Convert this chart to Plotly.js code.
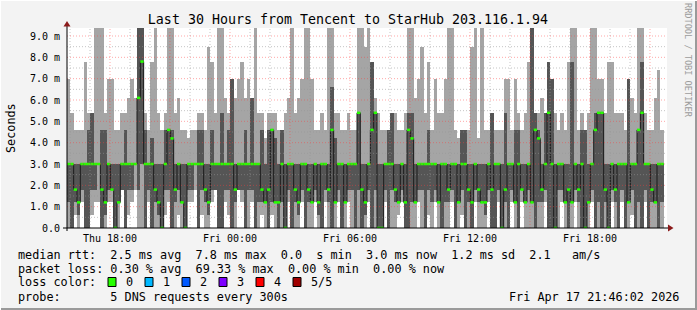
<!DOCTYPE html>
<html><head><meta charset="utf-8">
<script src="https://cdn.plot.ly/plotly-3.0.1.min.js"></script>
<style>html,body{margin:0;padding:0;background:#f3f3f3}#chart{width:697px;height:310px}</style>
</head><body><div id="chart"></div>
<script>
// ---- data: 5 sorted DNS response times (ms) per 10-minute step ----
const p1=[0,0,0.6,0,1.2,0,0,0.6,1.2,1.2, 0,0,1.2,1.2,0,0,1.8,0,0.6,1.2, 1.8,0,0,0,1.2,0,0,0,0,0.6, 1.2,0,0,0.6,0,0,1.2,1.2,1.8,0, 0.6,0,0,1.2,1.8,0,0,1.2,0.6,0, 0,1.8,1.2,0,0,1.2,0,0,0.6,0,
 0,0.6,0,0,0,0,1.2,0,0,0, 1.2,0,0,0,1.2,0,0,1.2,0,0, 0,1.2,0,0,1.2,0,0,0,0,0, 1.2,0,0,0,0,1.2,0,0,0,0.6, 1.2,0,0,0,0,1.2,0,0,0.6,0, 1.2,0,0,0,0,1.2,0,0,0.6,0,
 0,0,1.2,0,0,0,1.2,0,0,1.2, 0,0,0,1.2,0,0,1.2,0,0,0, 0,0,0,1.2,0,0,0,0,1.2,0, 0,0,1.2,0,0,0,0,1.2,0,0, 0,0,0,1.2,0,0,1.2,0,0,0.6, 0,0,0,1.2,0,0,0,0,0];
const p2=[1.2,0,1.2,0.6,1.8,0,0,1.8,1.8,3.0, 0,0.6,1.8,1.8,0,1.2,1.8,0,1.8,1.8, 3.0,1.8,3.0,0,1.8,0,1.2,0.6,0,1.8, 1.8,0,1.2,1.8,1.2,0,1.8,1.8,3.0,0, 1.8,1.2,0.6,1.8,1.8,0,0,1.8,1.8,0, 1.2,1.8,1.8,0,1.8,1.8,0,1.2,1.2,1.2,
 0,1.2,1.2,0,1.2,0,1.8,0,1.2,0.6, 1.8,0,1.2,1.2,1.8,0.6,0,1.8,1.2,0, 1.2,1.8,0,1.2,1.8,1.8,0,1.8,0,0.6, 1.8,0,1.8,0,0,1.8,0,1.8,1.2,1.2, 1.8,0,0,1.2,1.2,1.8,1.8,0,1.8,1.2, 1.8,1.2,0,1.2,1.2,1.8,0,1.2,1.8,0,
 1.2,0,1.8,1.2,1.2,0.6,1.8,0,0,1.8, 0,1.2,0,1.8,1.2,0,1.8,1.2,1.8,1.2, 0,1.2,1.2,1.8,0,0,0,1.8,1.8,1.2, 0,1.2,1.8,1.2,0,0,1.2,1.8,0,1.2, 0,1.2,0,1.8,1.2,0,1.8,0,1.2,1.8, 0,1.2,0,1.8,0,1.2,1.2,0,1.2];
const p3=[3,3,1.8,1.2,3,3,3,3,3,3, 1.8,1.2,3,1.8,0,1.2,3,3,3,3, 3,6.1,7.8,3,3,3,1.8,1.2,0,3, 4.6,4.2,1.8,3,1.2,0,3,3,3,3, 3,1.8,1.2,3,3,3,3,3,3,3, 1.8,3,3,3,3,3,3,3,1.8,1.2,
 1.8,4.6,1.2,1.2,3,0,3,3,1.8,1.2, 3,3,1.8,1.2,3,1.2,3,3,1.8,4.6, 1.2,3,3,1.2,3,3,3,5.4,1.8,1.2, 3,4.6,5.4,0,0,3,3,3,1.8,1.2, 3,1.2,4.6,4.2,1.2,3,3,3,3,3, 3,1.2,3,3,1.8,3,3,1.2,3,3,
 1.8,1.2,3,1.8,1.2,1.2,3,1.8,3,3, 0,1.8,3,3,1.2,3,1.8,1.2,3,1.2, 4.6,4.2,1.8,3,5.4,3,0,3,3,1.2, 1.8,1.2,3,1.8,3,0,1.2,3,4.6,5.4, 5.4,1.8,0,3,1.8,3,3,3,1.2,3, 3,4.6,5.4,3,3,1.8,1.2,3,3];
const p4=[3,3,3,3,3,3,4.6,5.4,3,3, 4.6,4.6,3,3,3,3,3,4.6,3,3, 3,9.6,9.6,4.6,3,4.2,3,3,3,4.6, 4.6,4.6,3,3,3,3,3,3,3,4.6, 4.6,3,3,4.6,3,3,5.4,3,4.6,7.0, 3,3,3,4.6,3,6.1,3,3,4.6,3,
 4.6,4.6,4.2,3,4.6,3,3,3,3,3, 3,3,3,3,3,3,3,3,3,6.6, 4.2,3,3,3,3,3,3,5.4,3,3, 3,7.8,5.4,3,3,3,4.6,5.4,3,3, 3,3,5.4,5.4,3,3,3,3,4.6,3, 3,3,3,3,3,3,3,3,4.6,4.6,
 3,3,3,3,3,3,3,5.4,3,3, 3,5.4,3,3,4.6,4.6,3,3,3,9.6, 5.4,4.6,3,5.4,7.8,7.0,3,3,3,3, 3,7.8,3,3,4.6,4.6,3,3,5.4,5.4, 5.4,3,3,3,3,3,3,3,7.0,3, 3,4.6,7.8,3,3,3,3,3,3];
const p5=[7.0,5.4,4.6,4.6,4.6,7.8,5.4,5.4,9.6,9.6, 9.6,5.4,7.0,7.0,4.6,4.6,5.4,5.4,6.1,7.0, 6.1,9.6,9.6,5.4,4.6,7.8,9.6,5.4,4.6,5.4, 9.6,9.6,5.4,6.1,4.6,4.6,4.2,4.6,4.6,5.4, 5.4,4.6,8.5,7.8,5.4,9.6,9.6,6.1,5.4,7.0, 6.1,7.0,7.8,6.1,7.0,6.1,9.6,5.4,5.4,4.2,
 5.4,5.4,5.4,4.6,4.6,5.4,6.1,9.6,5.4,6.1, 7.0,9.6,9.6,7.0,4.6,4.6,5.4,4.6,9.6,9.6, 5.4,5.4,4.6,4.6,5.4,4.6,4.6,9.6,9.6,8.5, 9.6,7.8,6.1,5.4,4.6,4.6,4.6,5.4,5.4,4.6, 4.6,5.4,9.6,9.6,6.1,7.0,8.5,5.4,7.8,4.6, 7.0,5.4,5.4,7.0,9.6,9.6,4.6,4.2,4.6,4.6,
 4.6,8.5,9.6,4.2,9.6,4.6,4.6,5.4,4.6,4.6, 4.6,7.0,7.0,4.6,7.0,5.4,4.6,5.4,7.8,9.6, 5.4,5.4,6.1,5.4,7.8,7.0,5.4,4.6,5.4,4.6, 7.8,9.6,9.6,4.6,5.4,4.6,5.4,9.6,9.6,7.0, 7.0,5.4,7.8,7.8,5.4,5.4,5.4,4.6,7.0,6.1, 5.4,9.6,9.6,5.4,4.6,4.6,6.1,7.4,4.6];

const yTickVals=[0,1,2,3,4,5,6,7,8,9];
const yTickText=['0.0','1.0 m','2.0 m','3.0 m','4.0 m','5.0 m','6.0 m','7.0 m','8.0 m','9.0 m'];
const xTickText=['Thu 18:00','','Fri 00:00','','Fri 06:00','','Fri 12:00','','Fri 18:00',''];
const lossLabels=['0','1','2','3','4','5/5'];
const lossColors=['#26ff00','#00b8ff','#0059ff','#7e00ff','#ff0000','#a00000'];
const statsLine1='median rtt:  2.5 ms avg  7.8 ms max  0.0  s min  3.0 ms now  1.2 ms sd  2.1   am/s';
const statsLine2='packet loss: 0.30 % avg  69.33 % max  0.00 % min  0.00 % now';
const probeText='probe:       5 DNS requests every 300s';
const stampText='Fri Apr 17 21:46:02 2026';
const titleText='Last 30 Hours from Tencent to StarHub 203.116.1.94';

// ---- geometry helpers (layout only) ----
const HOUR=3600000, STEP=600000;
const tStart=Date.UTC(2026,3,16,15,51,0), tStop=tStart+30*HOUR;
const L=67,R=667,T=28,B=228;
const xp=px=>(px-L)/(R-L), yp=py=>(B-py)/(B-T);
const MONO='DejaVu Sans Mono, monospace';

const t=p3.map((_,i)=>tStart+i*STEP);
const traces=[
 {type:'bar',x:t,base:p1,y:p5.map((v,i)=>v-p1[i]),width:STEP,offset:0,
  marker:{color:'#a5a5a5',line:{width:0}},hoverinfo:'skip',showlegend:false},
 {type:'bar',x:t,base:p2,y:p4.map((v,i)=>v-p2[i]),width:STEP,offset:0,
  marker:{color:'#555555',line:{width:0}},hoverinfo:'skip',showlegend:false},
 {type:'scatter',mode:'lines',x:t.concat([t[t.length-1]+STEP]),y:p3.concat([p3[p3.length-1]]),
  line:{shape:'hv',color:'#1c1c1c',width:1},hoverinfo:'skip',showlegend:false}
];
const gx=[],gy=[];
t.forEach((v,i)=>{gx.push(v,v+STEP,null);gy.push(p3[i],p3[i],null);});
traces.push({type:'scatter',mode:'lines',x:gx,y:gy,line:{color:lossColors[0],width:2.5},hoverinfo:'skip',showlegend:false});

const shapes=[];
// grid (drawn above the smoke like rrdtool)
const firstHour=Math.ceil(tStart/HOUR)*HOUR;
for(let h=firstHour;h<tStop;h+=HOUR){
  const major=(new Date(h).getUTCHours()%3===0);
  shapes.push({type:'line',xref:'x',yref:'paper',x0:h,x1:h,y0:0,y1:1,layer:'above',
    line:{color:major?'rgba(255,60,60,0.45)':'rgba(150,150,150,0.55)',width:1,dash:'1px,2px'}});
}
for(let v=0.5;v<9.4;v+=0.5){
  const major=Math.abs(v-Math.round(v))<1e-6;
  shapes.push({type:'line',xref:'paper',yref:'y',x0:0,x1:1,y0:v,y1:v,layer:'above',
    line:{color:major?'rgba(255,60,60,0.45)':'rgba(150,150,150,0.55)',width:1,dash:'1px,2px'}});
}
// axes with arrows
shapes.push({type:'line',xref:'paper',yref:'paper',x0:xp(63),x1:xp(669),y0:0,y1:0,layer:'above',line:{color:'#000',width:1}});
shapes.push({type:'line',xref:'paper',yref:'paper',x0:0,x1:0,y0:yp(231),y1:yp(25),layer:'above',line:{color:'#000',width:1}});
shapes.push({type:'path',xref:'paper',yref:'paper',layer:'above',
  path:`M ${xp(668)} ${yp(224.5)} L ${xp(673.5)} ${yp(228)} L ${xp(668)} ${yp(231.5)} Z`,fillcolor:'#8b1a1a',line:{width:0}});
shapes.push({type:'path',xref:'paper',yref:'paper',layer:'above',
  path:`M ${xp(63.5)} ${yp(26.5)} L ${xp(67)} ${yp(21)} L ${xp(70.5)} ${yp(26.5)} Z`,fillcolor:'#8b1a1a',line:{width:0}});
// frame
shapes.push({type:'line',xref:'paper',yref:'paper',x0:xp(0),x1:xp(697),y0:yp(309),y1:yp(309),line:{color:'#9a9a9a',width:2}});
shapes.push({type:'line',xref:'paper',yref:'paper',x0:xp(696),x1:xp(696),y0:yp(0),y1:yp(310),line:{color:'#9a9a9a',width:2}});
shapes.push({type:'line',xref:'paper',yref:'paper',x0:xp(0),x1:xp(697),y0:yp(0.5),y1:yp(0.5),line:{color:'#ffffff',width:1}});
shapes.push({type:'line',xref:'paper',yref:'paper',x0:xp(0.5),x1:xp(0.5),y0:yp(0),y1:yp(310),line:{color:'#ffffff',width:1}});

const ann=[];
const legFont={family:MONO,size:11.8,color:'#000'};
const rows=[255,268.5,282,296.5];
ann.push({text:statsLine1,x:xp(16),y:yp(rows[0]),xanchor:'left',yanchor:'middle'});
ann.push({text:statsLine2,x:xp(16),y:yp(rows[1]),xanchor:'left',yanchor:'middle'});
ann.push({text:'loss color:',x:xp(16),y:yp(rows[2]),xanchor:'left',yanchor:'middle'});
ann.push({text:probeText,x:xp(16),y:yp(rows[3]),xanchor:'left',yanchor:'middle'});
ann.push({text:stampText,x:xp(681),y:yp(rows[3]),xanchor:'right',yanchor:'middle'});
lossLabels.forEach((lab,i)=>{
  const bx=108+37*i;
  shapes.push({type:'rect',xref:'paper',yref:'paper',x0:xp(bx),x1:xp(bx+8),y0:yp(rows[2]-4.5),y1:yp(rows[2]+4.5),
    fillcolor:lossColors[i],line:{color:'#000',width:1}});
  ann.push({text:lab,x:xp(bx+16),y:yp(rows[2]),xanchor:'left',yanchor:'middle'});
});
ann.forEach(a=>{a.xref='paper';a.yref='paper';a.showarrow=false;a.font=legFont;});
ann.push({text:'Seconds',xref:'paper',yref:'paper',x:xp(11),y:0.5,textangle:-90,showarrow:false,
  xanchor:'center',yanchor:'middle',font:{family:MONO,size:11.8,color:'#000'}});
ann.push({text:'RRDTOOL / TOBI OETIKER',xref:'paper',yref:'paper',x:xp(688),y:yp(60),textangle:90,showarrow:false,
  xanchor:'center',yanchor:'middle',font:{family:MONO,size:8.6,color:'#9c9c9c'}});

const xTickVals=xTickText.map((_,i)=>Date.UTC(2026,3,16,18,0,0)+i*3*HOUR);

const layout={
  width:697,height:310,
  margin:{l:L,r:697-R,t:T,b:310-B,pad:0},
  paper_bgcolor:'#f3f3f3',plot_bgcolor:'#ffffff',
  barmode:'overlay',bargap:0,showlegend:false,
  title:{text:titleText,x:348/697,xref:'container',xanchor:'center',y:1-19.5/310,yref:'container',yanchor:'middle',
    font:{family:MONO,size:13.3,color:'#000'}},
  xaxis:{type:'date',range:[tStart,tStop],tickmode:'array',tickvals:xTickVals,ticktext:xTickText,
    showgrid:false,zeroline:false,showline:false,ticks:'',ticklabelstandoff:3,
    tickfont:{family:MONO,size:10,color:'#000'},fixedrange:true},
  yaxis:{range:[0,9.375],tickmode:'array',tickvals:yTickVals,ticktext:yTickText,
    showgrid:false,zeroline:false,showline:false,ticks:'',ticklabelstandoff:6,
    tickfont:{family:MONO,size:10,color:'#000'},fixedrange:true},
  shapes:shapes,annotations:ann
};
Plotly.newPlot('chart',traces,layout,{displayModeBar:false,staticPlot:true});
</script></body></html>
